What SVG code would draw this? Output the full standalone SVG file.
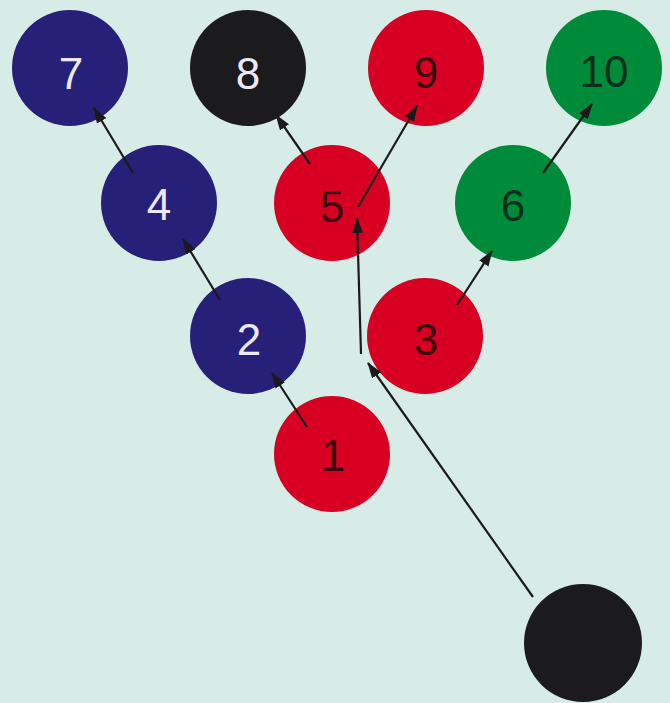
<svg xmlns="http://www.w3.org/2000/svg" width="670" height="703" viewBox="0 0 670 703">
<style>
.bg{fill:#d7ebe7}
.blue{fill:#262078}
.black{fill:#1b1b1d}
.red{fill:#d80022}
.green{fill:#008b3a}
text{font-family:"Liberation Sans",Arial,sans-serif;font-size:44px;text-anchor:middle}
.lt{fill:#ece8f6}
.dkr{fill:#3c0610}
.dkg{fill:#06301a}
.edge{stroke:#1a1a1c;stroke-width:2.2;fill:none;marker-end:url(#ah)}
</style>
<defs>
<marker id="ah" viewBox="0 0 16 11" refX="15" refY="5.5" markerWidth="16" markerHeight="11" markerUnits="userSpaceOnUse" orient="auto">
<path d="M0,0 L16,5.5 L0,11 Z" fill="#1a1a1c"/>
</marker>
</defs>
<rect class="bg" x="0" y="0" width="670" height="703"/>
<g id="n7"><circle class="blue" cx="70" cy="68" r="58"/><text class="lt" x="71" y="89">7</text></g>
<g id="n8"><circle class="black" cx="248" cy="68" r="58"/><text class="lt" x="248" y="89">8</text></g>
<g id="n9"><circle class="red" cx="426" cy="68" r="58"/><text class="dkr" x="426" y="88">9</text></g>
<g id="n10"><circle class="green" cx="604" cy="68" r="58"/><text class="dkg" x="604" y="87">10</text></g>
<g id="n4"><circle class="blue" cx="159" cy="203" r="58"/><text class="lt" x="159" y="220">4</text></g>
<g id="n5"><circle class="red" cx="332" cy="203" r="58"/><text class="dkr" x="332" y="222">5</text></g>
<g id="n6"><circle class="green" cx="513" cy="203" r="58"/><text class="dkg" x="513" y="221">6</text></g>
<g id="n2"><circle class="blue" cx="248" cy="336" r="58"/><text class="lt" x="249" y="355">2</text></g>
<g id="n3"><circle class="red" cx="425" cy="336" r="58"/><text class="dkr" x="426" y="355">3</text></g>
<g id="n1"><circle class="red" cx="332" cy="454" r="58"/><text class="dkr" x="333" y="471">1</text></g>
<g id="n0"><circle class="black" cx="583" cy="643" r="59"/></g>
<g id="edges">
<line class="edge" x1="133" y1="173" x2="94" y2="108"/>
<line class="edge" x1="310" y1="164" x2="276" y2="115"/>
<line class="edge" x1="358" y1="207" x2="417" y2="106"/>
<line class="edge" x1="543" y1="173" x2="592" y2="104"/>
<line class="edge" x1="220" y1="300" x2="183" y2="239"/>
<line class="edge" x1="307" y1="427" x2="272" y2="373"/>
<line class="edge" x1="457" y1="305" x2="492" y2="251"/>
<line class="edge" x1="361" y1="354" x2="357" y2="218"/>
<line class="edge" x1="533" y1="597" x2="368" y2="363"/>
</g>
</svg>
